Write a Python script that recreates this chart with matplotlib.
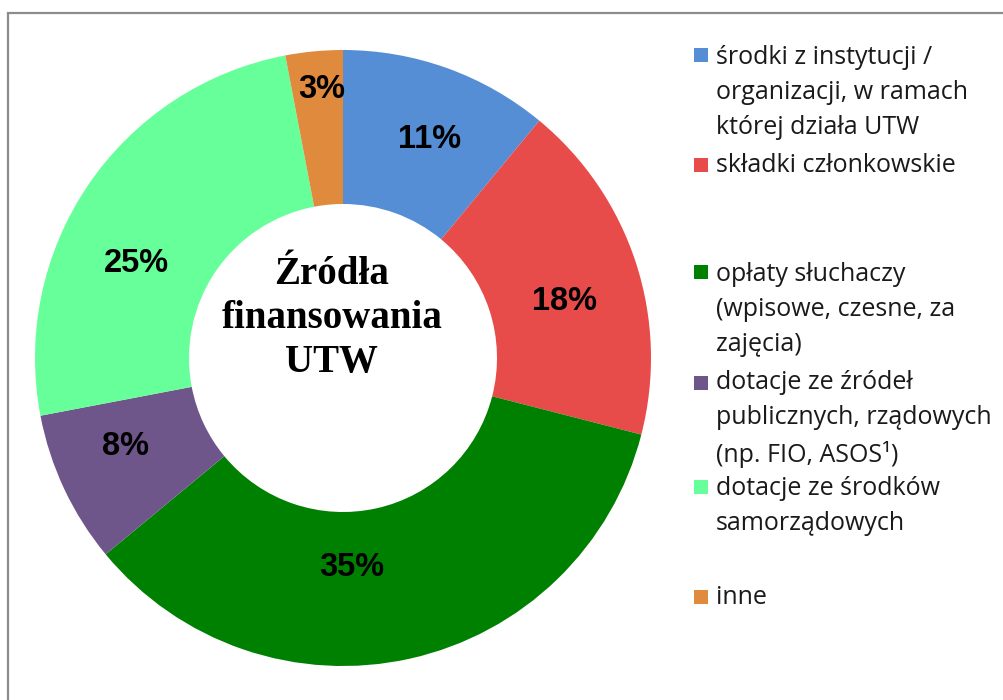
import matplotlib
matplotlib.use('Agg')
import matplotlib.pyplot as plt
from matplotlib.patches import Rectangle

categories = [
    'środki z instytucji /\norganizacji, w ramach\nktórej działa UTW',
    'składki członkowskie',
    'opłaty słuchaczy\n(wpisowe, czesne, za\nzajęcia)',
    'dotacje ze źródeł\npublicznych, rządowych\n(np. FIO, ASOS¹)',
    'dotacje ze środków\nsamorządowych',
    'inne',
]
shares = [11, 18, 35, 8, 25, 3]
colors = ['#558ED5', '#E84C4A', '#008000', '#6F568A', '#66FF99', '#E08A3E']

# label placement inside the ring (data units, radius = 1), as in the original
label_pos = [(0.282, 0.711), (0.718, 0.185), (0.029, -0.679),
             (-0.705, -0.286), (-0.672, 0.308), (-0.068, 0.873)]

W, H = 1004, 700
fig = plt.figure(figsize=(W / 100, H / 100), dpi=100)

# pie axes: centre (343, 358) px, radius 308 px
cx, cy, r = 343, 358, 308
ax = fig.add_axes([(cx - r) / W, (H - cy - r) / H, 2 * r / W, 2 * r / H])
wedges, _, autotexts = ax.pie(
    shares, colors=colors, startangle=90, counterclock=False,
    autopct='%.0f%%', pctdistance=0.75, radius=1.0,
    wedgeprops=dict(width=0.5, linewidth=0),
    textprops=dict(fontsize=23.5, fontweight='bold', family='Liberation Sans', color='black'))
for t, pos in zip(autotexts, label_pos):
    t.set_position(pos)
    t.set_va('center')
ax.set_xlim(-1, 1)
ax.set_ylim(-1, 1)
ax.set_aspect('equal')
ax.axis('off')

# baseline of the last line ("UTW") sits at 372 px
ax.text(-0.036, -0.045, 'Źródła\nfinansowania\nUTW', ha='center', va='baseline',
        fontsize=28, fontweight='bold', family='Liberation Serif', linespacing=1.25)

# legend drawn by hand to keep Excel-like spacing
entry_y = [55, 165, 272, 383, 487, 597]  # x-height centre of first line, px
line_h = 36
for lab, col, y in zip(categories, colors, entry_y):
    n = lab.count('\n')
    fig.patches.append(Rectangle((694 / W, 1 - (y + 7) / H), 14 / W, 14 / H,
                                 transform=fig.transFigure, facecolor=col,
                                 edgecolor='none'))
    # va='baseline' pins the last line's baseline
    fig.text(716 / W, 1 - (y + 7 + n * line_h) / H, lab, ha='left', va='baseline',
             fontsize=18, family='Open Sans', color='#1a1a1a', linespacing=1.53)

# chart frame (only left and top edges visible in the crop)
fig.patches.append(Rectangle((8 / W, -0.1), 1.2, 1 - 13 / H + 0.1,
                             transform=fig.transFigure, fill=False,
                             edgecolor='#8c8c8c', linewidth=1.6))

fig.savefig('out.png', dpi=100)
